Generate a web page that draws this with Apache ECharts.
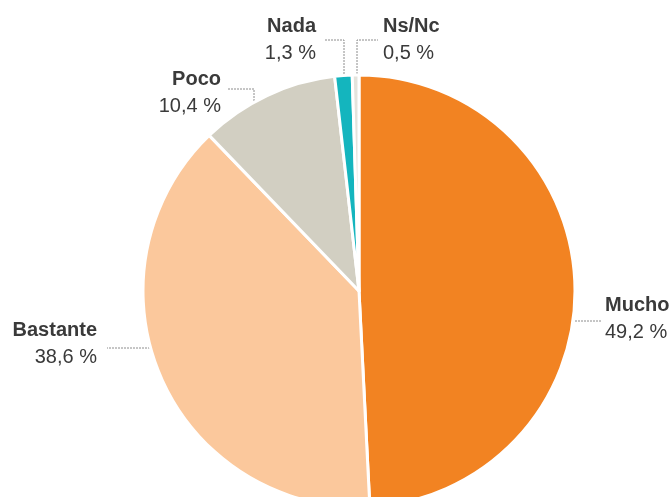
<!DOCTYPE html>
<html>
<head>
<meta charset="utf-8">
<script src="https://cdn.jsdelivr.net/npm/echarts@6/dist/echarts.min.js"></script>
<style>
  html, body { margin: 0; padding: 0; background: #fff; }
  #chart { width: 672px; height: 497px; }
</style>
</head>
<body>
<div id="chart"></div>
<script>
// datos (sentido horario desde las 12)
var categorias = ['Mucho', 'Bastante', 'Poco', 'Nada', 'Ns/Nc'];
var valores = [49.2, 38.6, 10.4, 1.3, 0.5];
var colores = ['#F28322', '#FBC89C', '#D2CFC2', '#14B5BE', '#E4E3DC'];

// posición de cada etiqueta y su línea guía (ancla x, y, alineación, puntos)
var etiquetas = [
  { x: 605, y: 319, align: 'left',  line: [[572, 321], [602, 321]] },
  { x: 97,  y: 344, align: 'right', line: [[150, 348], [107, 348]] },
  { x: 221, y: 93,  align: 'right', line: [[254, 110], [254, 89], [227, 89]] },
  { x: 316, y: 40,  align: 'right', line: [[344, 77], [344, 40], [324, 40]] },
  { x: 383, y: 40,  align: 'left',  line: [[357, 77], [357, 40], [378, 40]] }
];

var datos = categorias.map(function (c, i) {
  return { name: c, value: valores[i], itemStyle: { color: colores[i] } };
});

var myChart = echarts.init(document.getElementById('chart'));
var option = {
  animation: false,
  series: [{
    type: 'pie',
    center: [359, 291],
    radius: 216,
    startAngle: 90,
    clockwise: true,
    data: datos,
    itemStyle: { borderColor: '#fff', borderWidth: 3 },
    label: {
      show: true,
      position: 'outside',
      overflow: 'none',
      formatter: function (p) {
        return '{n|' + p.name + '}\n{v|' + p.value.toFixed(1).replace('.', ',') + ' %}';
      },
      rich: {
        n: { fontFamily: 'Liberation Sans', fontWeight: 'bold', fontSize: 20, color: '#3a3a3a', lineHeight: 27 },
        v: { fontFamily: 'Liberation Sans', fontSize: 20, color: '#3a3a3a', lineHeight: 27 }
      }
    },
    labelLine: {
      show: true,
      lineStyle: { color: '#8c8c8c', width: 1, type: [2, 1] }
    },
    labelLayout: function (params) {
      var e = etiquetas[params.dataIndex];
      return {
        x: e.x,
        y: e.y,
        align: e.align,
        verticalAlign: 'middle',
        labelLinePoints: e.line
      };
    },
    emphasis: { disabled: true }
  }]
};
myChart.setOption(option);
</script>
</body>
</html>
